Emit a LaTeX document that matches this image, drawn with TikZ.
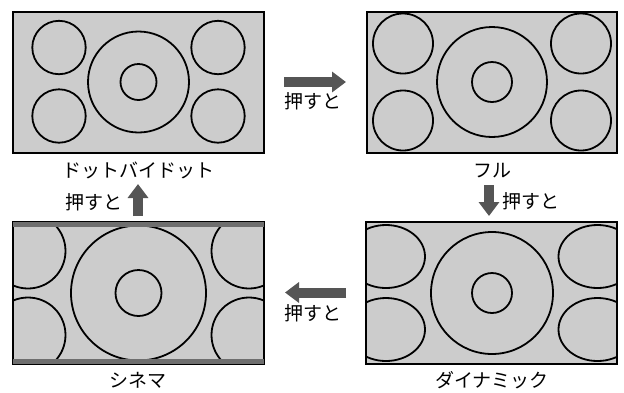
\documentclass[tikz,border=0pt]{standalone}
\usepackage{fontspec}
\newfontfamily\jp{Noto Sans CJK JP}
\usetikzlibrary{arrows.meta}
\definecolor{panelfill}{HTML}{CCCCCC}
\definecolor{arrowgray}{HTML}{555555}
\definecolor{bandgray}{HTML}{6E6E6E}
\tikzset{
  panel/.style={draw=black, line width=1.2pt, fill=panelfill, inner sep=0pt},
  ring/.style={draw=black, line width=1.8pt},
  lbl/.style={font=\jp\fontsize{19}{22}\selectfont, inner sep=0pt, text=black},
  bigarrow/.style={draw=arrowgray, line width=10pt, -{Triangle[length=14pt,width=20pt]}}
}
\begin{document}
\begin{tikzpicture}[x=1pt,y=-1pt]
\useasboundingbox[fill=white] (0,0) rectangle (624,392);

% ---- Panel 1: dot by dot
\node[panel, minimum width=251pt, minimum height=141pt] (p1) at (138.5,82.5) {};
\begin{scope}
  \clip (p1.south west) rectangle (p1.north east);
  \foreach \cx/\cy in {59/47.5, 59/116, 218/47.5, 218/116}
    \draw[ring] (\cx,\cy) circle[radius=26.7pt];
  \draw[ring] (138.5,82) circle[radius=50.5pt];
  \draw[ring] (138.5,82) circle[radius=18pt];
\end{scope}
\draw[line width=1.2pt] (p1.south west) rectangle (p1.north east);

% ---- Panel 2: full
\node[panel, minimum width=250pt, minimum height=141pt] (p2) at (492,82.5) {};
\begin{scope}
  \clip (p2.south west) rectangle (p2.north east);
  \foreach \cx/\cy in {403/43.5, 403/120.5, 581/43.5, 581/120.5}
    \draw[ring] (\cx,\cy) circle[radius=30pt];
  \draw[ring] (492,82) circle[radius=55pt];
  \draw[ring] (492,82) circle[radius=20pt];
\end{scope}
\draw[line width=1.2pt] (p2.south west) rectangle (p2.north east);

% ---- Panel 3: cinema
\node[panel, minimum width=251pt, minimum height=142pt] (p3) at (138.5,293) {};
\begin{scope}
  \clip (p3.south west) rectangle (p3.north east);
  \foreach \cx/\cy in {28/251, 28/335, 249/251, 249/335}
    \draw[ring] (\cx,\cy) circle[radius=37.5pt];
  \draw[ring] (138.5,293) circle[radius=67.5pt];
  \draw[ring] (138.5,293) circle[radius=23pt];
  \fill[bandgray] (p3.north west) rectangle ([yshift=-6pt]p3.north east);
  \fill[bandgray] (p3.south west) rectangle ([yshift=6pt]p3.south east);
\end{scope}
\draw[line width=1.2pt] (p3.south west) rectangle (p3.north east);

% ---- Panel 4: dynamic
\node[panel, minimum width=250.5pt, minimum height=142pt] (p4) at (491.75,293) {};
\begin{scope}
  \clip (p4.south west) rectangle (p4.north east);
  \foreach \cx/\cy in {386/256.5, 386/329.5, 597.5/256.5, 597.5/329.5}
    \draw[ring] (\cx,\cy) ellipse[x radius=39pt, y radius=31.5pt];
  \draw[ring] (492,293) circle[radius=61pt];
  \draw[ring] (492,293) circle[radius=20pt];
\end{scope}
\draw[line width=1.2pt] (p4.south west) rectangle (p4.north east);

% ---- Labels
\node[lbl] (l1) at (138,170) {ドットバイドット};
\node[lbl] (l2) at (492,171) {フル};
\node[lbl] (l3) at (138,380) {シネマ};
\node[lbl] (l4) at (492,380) {ダイナミック};

% ---- Arrows
\coordinate (a1s) at (284,82);  \coordinate (a1e) at (346,82);
\coordinate (a2s) at (489,185); \coordinate (a2e) at (489,216);
\coordinate (a3s) at (346,292.5); \coordinate (a3e) at (285,292.5);
\coordinate (a4s) at (138,216); \coordinate (a4e) at (138,184);
\draw[bigarrow] (a1s) -- (a1e);
\draw[bigarrow] (a2s) -- (a2e);
\draw[bigarrow] (a3s) -- (a3e);
\draw[bigarrow] (a4s) -- (a4e);

\node[lbl] (t1) at (313,101) {押すと};
\node[lbl] (t2) at (531,201) {押すと};
\node[lbl] (t3) at (313,313) {押すと};
\node[lbl] (t4) at (94,202) {押すと};
\end{tikzpicture}
\end{document}
